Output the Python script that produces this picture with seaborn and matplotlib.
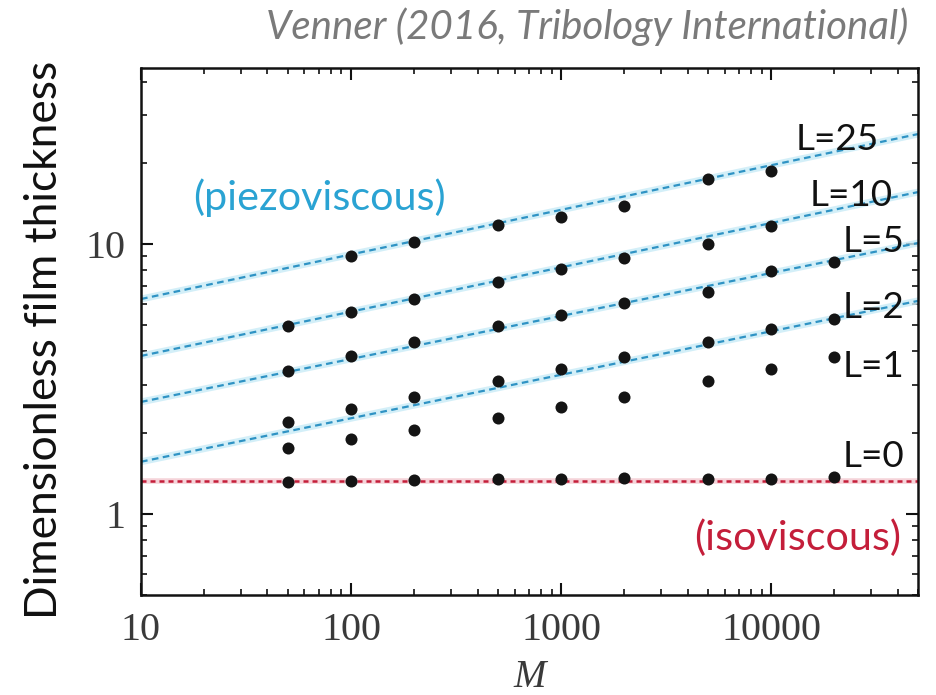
import numpy as np
import pandas as pd
import matplotlib
matplotlib.use("Agg")
import matplotlib.pyplot as plt
from matplotlib.ticker import LogLocator, NullFormatter, FixedLocator, FixedFormatter
import seaborn as sns

# Dimensionless load values M where the film thickness was computed
M = [50, 100, 200, 500, 1000, 2000, 5000, 10000, 20000]

# Central film thickness for each lubricant parameter L
H_L0 = [1.31, 1.32, 1.33, 1.35, 1.35, 1.36, 1.35, 1.35, 1.37]
H_L1 = [1.75, 1.90, 2.04, 2.27, 2.48, 2.71, 3.10, 3.44, 3.80]
H_L2 = [2.19, 2.45, 2.71, 3.12, 3.44, 3.80, 4.35, 4.84, 5.27]
H_L5 = [3.39, 3.86, 4.32, 4.98, 5.46, 6.04, 6.62, 7.96, 8.55]
M_L10 = [50, 100, 200, 500, 1000, 2000, 5000, 10000]
H_L10 = [4.98, 5.58, 6.26, 7.21, 8.08, 8.85, 10.0, 11.7]
M_L25 = [100, 200, 500, 1000, 2000, 5000, 10000]
H_L25 = [9.0, 10.2, 11.75, 12.6, 13.9, 17.4, 18.7]

# Asymptotic power laws, given by their values at both ends of the M range
asym_M = [10, 50000]
piezo_L = ["25", "10", "5", "2"]
piezo_H = [[6.26, 25.6], [3.85, 15.6], [2.60, 10.1], [1.56, 6.16]]
iso_H = [1.32, 1.32]

series = [("0", M, H_L0), ("1", M, H_L1), ("2", M, H_L2), ("5", M, H_L5),
          ("10", M_L10, H_L10), ("25", M_L25, H_L25)]
points = pd.concat(
    [pd.DataFrame({"M": m, "H": h, "L": lab}) for lab, m, h in series],
    ignore_index=True,
)
lines = pd.concat(
    [pd.DataFrame({"M": asym_M, "H": h, "L": lab}) for lab, h in zip(piezo_L, piezo_H)],
    ignore_index=True,
)

sns.set_style("white")
plt.rcParams["font.family"] = ["Lato", "DejaVu Sans"]

BLUE = "#2f93c4"
HALO = "#c9ebf7"
RED = "#c41e3a"
TEXT_BLUE = "#2aa3d3"

W, H = 937, 695
fig = plt.figure(figsize=(W / 100, H / 100), dpi=100)
ax = fig.add_axes([141 / W, 1 - 595 / H, 777 / W, 527 / H])
ax.set(xscale="log", yscale="log")
renderer = fig.canvas.get_renderer()


def fit_width(txt, target_px):
    """Rescale a text so its rendered width is target_px pixels."""
    w = txt.get_window_extent(renderer=renderer).width
    txt.set_fontsize(txt.get_fontsize() * target_px / w)
    return txt.get_fontsize()


# soft halo under the piezoviscous asymptotes, then the dashed lines
for lab in piezo_L:
    sub = lines[lines["L"] == lab]
    sns.lineplot(data=sub, x="M", y="H", ax=ax, color=HALO, lw=5, alpha=0.8,
                 legend=False, zorder=1)
for lab in piezo_L:
    sub = lines[lines["L"] == lab]
    sns.lineplot(data=sub, x="M", y="H", ax=ax, color=BLUE, lw=1.6,
                 linestyle=(0, (3, 2)), legend=False, zorder=2)

# isoviscous asymptote
sns.lineplot(x=asym_M, y=iso_H, ax=ax, color="#f3c9d0", lw=4, alpha=0.8,
             legend=False, zorder=1)
sns.lineplot(x=asym_M, y=iso_H, ax=ax, color=RED, lw=1.8,
             linestyle=(0, (2, 1.6)), legend=False, zorder=2)

sns.scatterplot(data=points, x="M", y="H", ax=ax, color="#141414", s=75,
                linewidth=0, legend=False, zorder=3)

ax.set_xlim(10, 50000)
ax.set_ylim(0.5, 45)

serif = ["Liberation Serif", "DejaVu Serif"]
ax.xaxis.set_major_locator(FixedLocator([10, 100, 1000, 10000]))
ax.xaxis.set_major_formatter(FixedFormatter(["10", "100", "1000", "10000"]))
ax.yaxis.set_major_locator(FixedLocator([1, 10]))
ax.yaxis.set_major_formatter(FixedFormatter(["1", "10"]))
ax.xaxis.set_minor_locator(LogLocator(base=10, subs=np.arange(2, 10)))
ax.yaxis.set_minor_locator(LogLocator(base=10, subs=np.arange(2, 10)))
ax.xaxis.set_minor_formatter(NullFormatter())
ax.yaxis.set_minor_formatter(NullFormatter())

ax.tick_params(which="both", direction="in", bottom=True, left=True,
               top=True, right=True, colors="#111111", labelcolor="#3a3a3a")
ax.tick_params(which="major", length=8.5, width=1.5, labelsize=29)
ax.tick_params(which="minor", length=4.5, width=1.2)
ax.tick_params(axis="x", which="major", pad=12.5)
ax.tick_params(axis="y", which="major", pad=11)
for lbl in ax.get_xticklabels() + ax.get_yticklabels():
    lbl.set_family(serif)
for sp in ax.spines.values():
    sp.set_linewidth(1.8)
    sp.set_color("#111111")

ax.set_xlabel("M", family=serif, style="italic", fontsize=28, color="#3a3a3a")
ax.xaxis.set_label_coords(0.5, -0.121)
ylab = ax.set_ylabel("Dimensionless film thickness", fontsize=32, color="#111111")
ylab.set_rotation(0)
fit_width(ylab, 558)
ylab.set_rotation(90)
ax.yaxis.set_label_coords(-0.098, 0.484)

# regime labels
piezo = ax.text(10 ** (1 + (319 - 141) / 210), 10 ** ((515 - 198) / 270),
                "(piezoviscous)", color=TEXT_BLUE, fontsize=29,
                ha="center", va="center")
fs_regime = fit_width(piezo, 252)
ax.text(41600, 0.81, "(isoviscous)", color=RED, fontsize=fs_regime,
        ha="right", va="center",
        bbox=dict(facecolor="white", edgecolor="none", pad=0.5))

# curve labels
probe = ax.text(1, 1, "L=10", fontsize=28)
fs_curve = fit_width(probe, 83)
probe.remove()
curve_labels = [("L=25", 32400, 24.5), ("L=10", 38100, 15.1),
                ("L=5", 43000, 10.2), ("L=2", 43000, 5.82),
                ("L=1", 43000, 3.53), ("L=0", 43000, 1.63)]
for txt, xm, yh in curve_labels:
    ax.text(xm, yh, txt, color="#111111", fontsize=fs_curve,
            ha="right", va="center")

title = fig.text(908 / W, 1 - 39 / H, "Venner (2016, Tribology International)",
                 color="#7a7a7a", fontsize=26, style="italic", ha="right",
                 va="baseline")
fit_width(title, 643)

fig.savefig("out.png", dpi=100, facecolor="white")
